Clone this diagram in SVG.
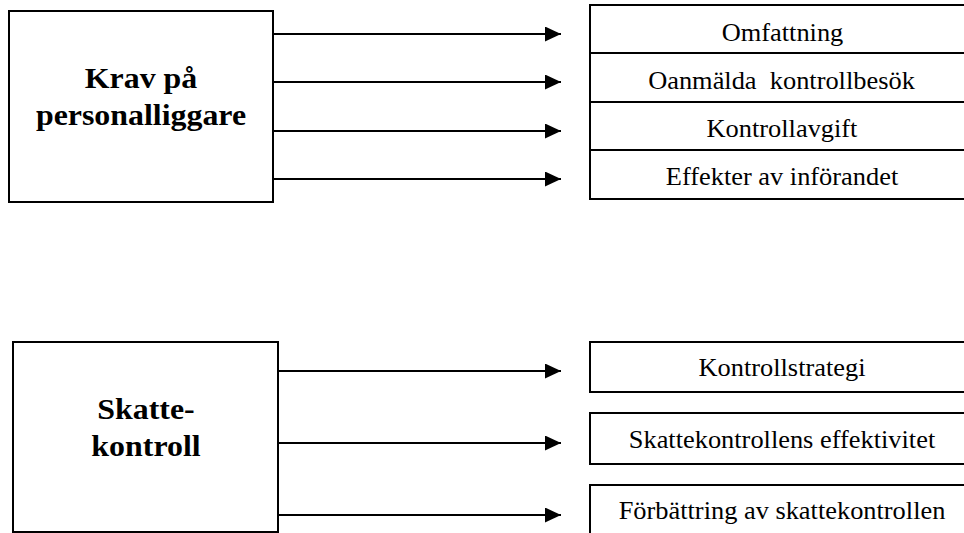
<svg xmlns="http://www.w3.org/2000/svg" width="964" height="533" viewBox="0 0 964 533">
<defs>
<style>
.box{fill:#fff;stroke:#000;stroke-width:2}
.div{stroke:#000;stroke-width:2}
.conn{stroke:#000;stroke-width:2;fill:none;marker-end:url(#ah)}
.t{font-family:"Liberation Serif","Times New Roman",serif;font-size:25px;fill:#000;text-anchor:middle}
.b{font-family:"Liberation Serif","Times New Roman",serif;font-size:29px;font-weight:bold;fill:#000;text-anchor:middle}
</style>
<marker id="ah" markerUnits="userSpaceOnUse" markerWidth="17" markerHeight="16" refX="16" refY="7.5" orient="auto">
<path d="M0,0 L16,7.5 L0,15 Z" fill="#000"/>
</marker>
</defs>
<rect width="964" height="533" fill="#fff"/>
<g id="connectors">
<line class="conn" x1="273" y1="34" x2="561" y2="34"/>
<line class="conn" x1="273" y1="82" x2="561" y2="82"/>
<line class="conn" x1="273" y1="131" x2="561" y2="131"/>
<line class="conn" x1="273" y1="179" x2="561" y2="179"/>
<line class="conn" x1="278" y1="371" x2="561" y2="371"/>
<line class="conn" x1="278" y1="443" x2="561" y2="443"/>
<line class="conn" x1="278" y1="515" x2="561" y2="515"/>
</g>
<g id="krav">
<rect class="box" x="9" y="11" width="264" height="191"/>
<text class="b" transform="translate(141,88) scale(1.1,1)">Krav på</text>
<text class="b" transform="translate(141,125) scale(1.1,1)">personalliggare</text>
</g>
<g id="krav-list">
<rect class="box" x="590" y="5" width="400" height="194"/>
<line class="div" x1="590" y1="53" x2="990" y2="53"/>
<line class="div" x1="590" y1="102" x2="990" y2="102"/>
<line class="div" x1="590" y1="150" x2="990" y2="150"/>
</g>
<g id="omfattning"><text class="t" transform="translate(782.5,41) scale(1.056,1)">Omfattning</text></g>
<g id="oanmalda"><text class="t" transform="translate(781.5,89) scale(1.056,1)" xml:space="preserve">Oanmälda  kontrollbesök</text></g>
<g id="kontrollavgift"><text class="t" transform="translate(782,137) scale(1.056,1)">Kontrollavgift</text></g>
<g id="effekter"><text class="t" transform="translate(782,185) scale(1.056,1)">Effekter av införandet</text></g>
<g id="skattekontroll">
<rect class="box" x="13" y="342" width="265" height="190"/>
<text class="b" transform="translate(146,419) scale(1.1,1)">Skatte-</text>
<text class="b" transform="translate(146,456) scale(1.1,1)">kontroll</text>
</g>
<g id="kontrollstrategi">
<rect class="box" x="590" y="342" width="400" height="50"/>
<text class="t" transform="translate(782,376) scale(1.056,1)">Kontrollstrategi</text>
</g>
<g id="effektivitet">
<rect class="box" x="590" y="413" width="400" height="51"/>
<text class="t" transform="translate(782,448) scale(1.056,1)">Skattekontrollens effektivitet</text>
</g>
<g id="forbattring">
<rect class="box" x="590" y="485" width="400" height="60"/>
<text class="t" transform="translate(782,519) scale(1.056,1)">Förbättring av skattekontrollen</text>
</g>
</svg>
